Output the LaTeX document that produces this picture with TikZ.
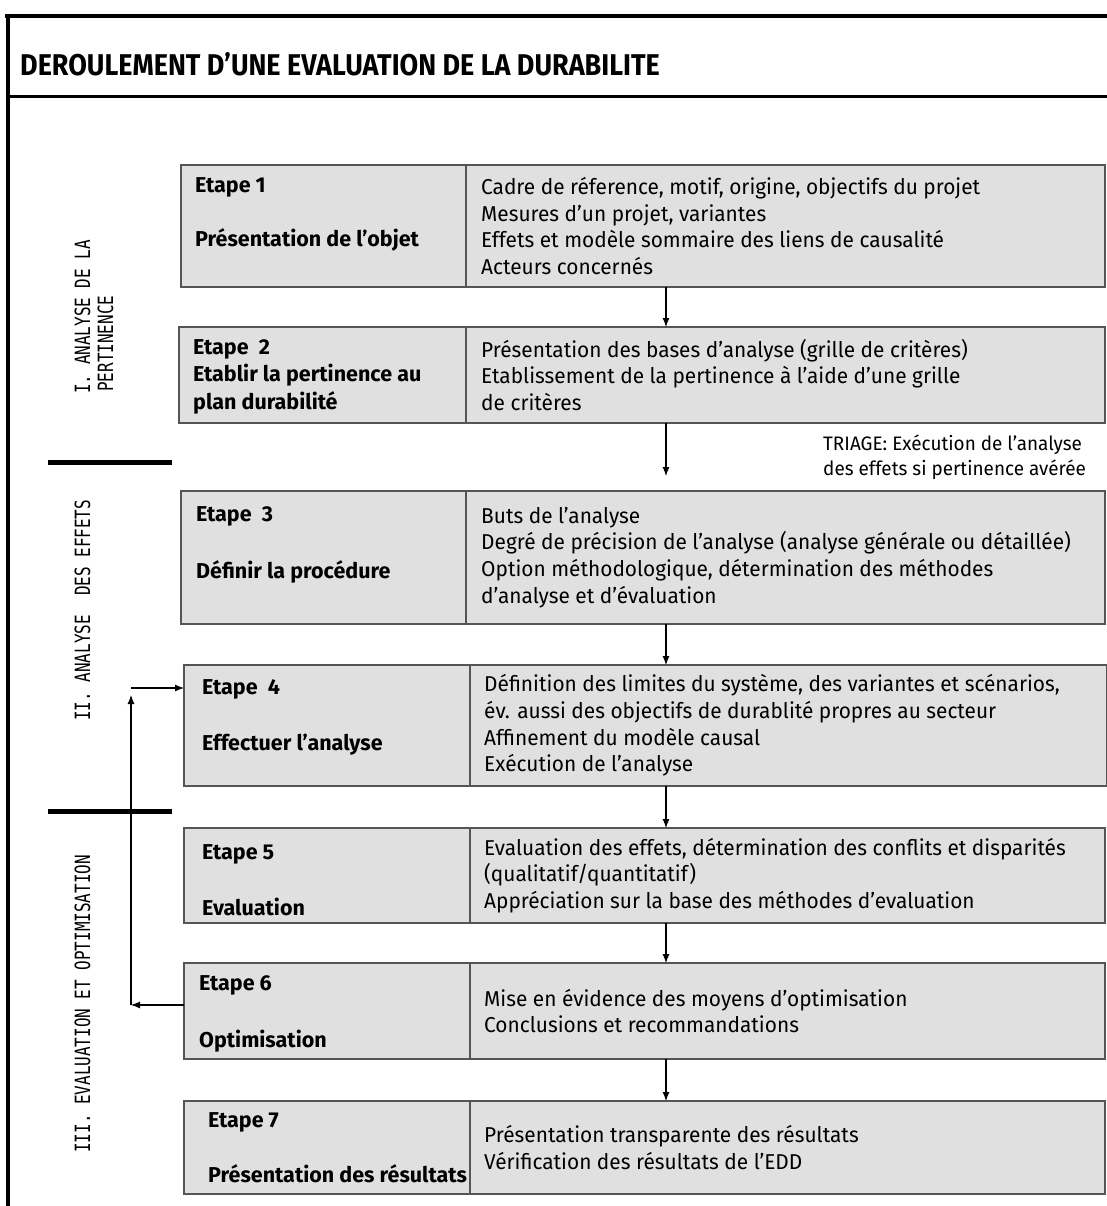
\documentclass[tikz,border=0pt]{standalone}
\usepackage{fontspec}
\setmainfont{Fira Sans}
\newfontfamily\bodyfont{Fira Sans}[FakeStretch=0.97]
\newfontfamily\titlefont{Fira Sans}[FakeStretch=0.9]
\newfontfamily\lblfont{DejaVu Sans Mono}[FakeStretch=0.76]
\usetikzlibrary{arrows.meta}
\definecolor{boxfill}{RGB}{224,224,224}
\definecolor{boxline}{RGB}{85,85,85}
\begin{document}
\begin{tikzpicture}[x=1pt,y=-1pt,
  cell/.style={draw=boxline, line width=1.5pt, fill=boxfill, rectangle, anchor=north west, inner sep=0pt, outer sep=0pt},
  rtxt/.style={anchor=west, align=left, inner sep=0pt, font=\bodyfont\fontsize{21.5}{26.7}\selectfont},
  ltxt/.style={anchor=base west, inner sep=0pt, font=\fontsize{21.5}{27}\selectfont\bfseries},
  ttxt/.style={anchor=base west, inner sep=0pt, font=\bodyfont\fontsize{19.5}{25}\selectfont},
  arr/.style={-{Latex[length=9pt,width=7pt]}, line width=1.1pt, black},
  lbl/.style={rotate=90, anchor=base west, inner sep=0pt, font=\lblfont\fontsize{21}{24}\selectfont},
  sepbar/.style={line width=5pt, black},
  framestyle/.style={line width=4pt, black}]
\useasboundingbox (0,0) rectangle (1107,1206);
% frame
\draw[framestyle] (5,16) -- (1107,16);
\draw[framestyle] (8,14) -- (8,1206);
\draw[line width=3pt] (8,97) -- (1107,97);
\node[anchor=base west, inner sep=0pt, font=\titlefont\bfseries\fontsize{30}{36}\selectfont] (title) at (20,76) {DEROULEMENT D’UNE EVALUATION DE LA DURABILITE};

% side labels
\node[lbl] (lab1a) at (90,394) {I. ANALYSE DE LA};
\node[lbl] (lab1b) at (113,392) {PERTINENCE};
\node[lbl] (lab2) at (90,721) {II. ANALYSE\ \ DES EFFETS};
\node[lbl] (lab3) at (90,1153) {III. EVALUATION ET OPTIMISATION};
\draw[sepbar] (48,462) -- (172,462);
\draw[sepbar] (48,811) -- (172,811);

% step 1
\node[cell, minimum width=285pt, minimum height=122pt] (s1l) at (181,165) {};
\node[cell, minimum width=639pt, minimum height=122pt] (s1r) at (466,165) {};
\node[rtxt] (d1) at ([xshift=15pt]s1r.west)
  {Cadre de réference, motif, origine, objectifs du projet\\Mesures d’un projet, variantes\\Effets et modèle sommaire des liens de causalité\\Acteurs concernés};
\node[ltxt] (e1a) at (195,193) {Etape 1};
\node[ltxt] (e1b) at (195,247) {Présentation de l’objet};

% step 2
\node[cell, minimum width=287pt, minimum height=96pt] (s2l) at (179,327) {};
\node[cell, minimum width=639pt, minimum height=96pt] (s2r) at (466,327) {};
\node[rtxt] (d2) at ([xshift=15pt]s2r.west)
  {Présentation des bases d’analyse (grille de critères)\\Etablissement de la pertinence à l’aide d’une grille\\de critères};
\node[ltxt] (e2a) at (193,354) {Etape\ \ 2};
\node[ltxt] (e2b) at (193,381) {Etablir la pertinence au};
\node[ltxt] (e2c) at (193,409) {plan durabilité};

\node[ttxt] (tri1) at (823,450) {TRIAGE: Exécution de l’analyse};
\node[ttxt] (tri2) at (823,475) {des effets si pertinence avérée};

% step 3
\node[cell, minimum width=285pt, minimum height=133pt] (s3l) at (181,491) {};
\node[cell, minimum width=639pt, minimum height=133pt] (s3r) at (466,491) {};
\node[rtxt] (d3) at ([xshift=15pt]s3r.west)
  {Buts de l’analyse\\Degré de précision de l’analyse (analyse générale ou détaillée)\\Option méthodologique, détermination des méthodes\\d’analyse et d’évaluation};
\node[ltxt] (e3a) at (196,521) {Etape\ \ 3};
\node[ltxt] (e3b) at (196,578) {Définir la procédure};

% step 4
\node[cell, minimum width=286pt, minimum height=121pt] (s4l) at (184,665) {};
\node[cell, minimum width=637pt, minimum height=121pt] (s4r) at (470,665) {};
\node[rtxt] (d4) at ([xshift=14pt]s4r.west)
  {Définition des limites du système, des variantes et scénarios,\\év. aussi des objectifs de durablité propres au secteur\\Affinement du modèle causal\\Exécution de l’analyse};
\node[ltxt] (e4a) at (202,694) {Etape\ \ 4};
\node[ltxt] (e4b) at (202,750) {Effectuer l’analyse};

% step 5
\node[cell, minimum width=286pt, minimum height=95pt] (s5l) at (184,828) {};
\node[cell, minimum width=635pt, minimum height=95pt] (s5r) at (470,828) {};
\node[rtxt] (d5) at ([xshift=14pt]s5r.west)
  {Evaluation des effets, détermination des conflits et disparités\\(qualitatif/quantitatif)\\Appréciation sur la base des méthodes d’evaluation};
\node[ltxt] (e5a) at (202,859) {Etape 5};
\node[ltxt] (e5b) at (202,915) {Evaluation};

% step 6
\node[cell, minimum width=286pt, minimum height=96pt] (s6l) at (184,963) {};
\node[cell, minimum width=635pt, minimum height=96pt] (s6r) at (470,963) {};
\node[rtxt] (d6) at ([xshift=14pt]s6r.west)
  {Mise en évidence des moyens d’optimisation\\Conclusions et recommandations};
\node[ltxt] (e6a) at (199,990) {Etape 6};
\node[ltxt] (e6b) at (199,1047) {Optimisation};

% step 7
\node[cell, minimum width=286pt, minimum height=93pt] (s7l) at (184,1101) {};
\node[cell, minimum width=635pt, minimum height=93pt] (s7r) at (470,1101) {};
\node[rtxt] (d7) at ([xshift=14pt]s7r.west)
  {Présentation transparente des résultats\\Vérification des résultats de l’EDD};
\node[ltxt] (e7a) at (208,1127) {Etape 7};
\node[ltxt] (e7b) at (208,1182) {Présentation des résultats};

% flow arrows
\coordinate (ax) at (666,0);
\coordinate (t3end) at (666,476);
\draw[arr] (s1r.south -| ax) -- (s2r.north -| ax);
\draw[arr] (s2r.south -| ax) -- (t3end);
\draw[arr] (s3r.south -| ax) -- (s4r.north -| ax);
\draw[arr] (s4r.south -| ax) -- (s5r.north -| ax);
\draw[arr] (s5r.south -| ax) -- (s6r.north -| ax);
\draw[arr] (s6r.south -| ax) -- (s7r.north -| ax);

% feedback loop
\coordinate (fbA) at (131,1005);
\coordinate (fbB) at (131,695);
\coordinate (fbC) at (131,688);
\draw[arr] (s6l.west |- fbA) -- (fbA);
\draw[arr] (fbA) -- (fbB);
\draw[arr] (fbC) -- (s4l.west |- fbC);
\end{tikzpicture}
\end{document}
